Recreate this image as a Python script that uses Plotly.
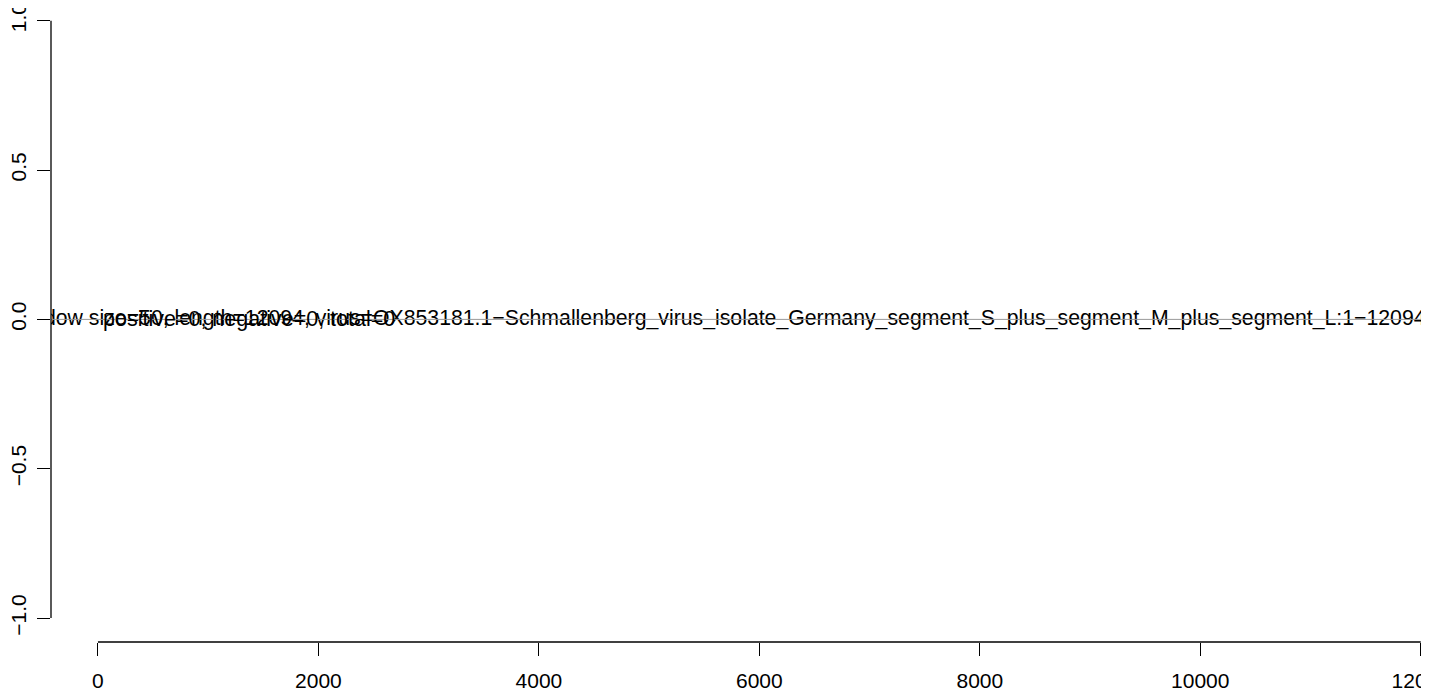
import plotly.graph_objects as go

# ---- data ----
genome_length = 12094
x_ticks = [0, 2000, 4000, 6000, 8000, 10000, 12000]
x_ticktext = ["0", "2000", "4000", "6000", "8000", "10000", "12000"]
y_ticks = [-1.0, -0.5, 0.0, 0.5, 1.0]
y_ticktext = ["\u22121.0", "\u22120.5", "0.0", "0.5", "1.0"]

title_text = "Window size=50, length=12094, virus=OX853181.1\u2212Schmallenberg_virus_isolate_Germany_segment_S_plus_segment_M_plus_segment_L:1\u221212094"
title_x = 5611
count_text = "positive=0, negative=0, total=0"
count_x = 0
label_y = 0

baseline_y = 0

FONT = "Liberation Sans, Arial, Helvetica, sans-serif"
FS = 21
FS_TITLE = 21.25
FS_COUNT = 21.5

fig = go.Figure()

# zero reference line
fig.add_shape(type="line", xref="paper", x0=0, x1=1, yref="y",
              y0=baseline_y, y1=baseline_y, line=dict(color="#9a9a9a", width=1))

# long label, centred and clipped by the plot region
fig.add_trace(go.Scatter(x=[title_x], y=[label_y], mode="text", text=[title_text],
                         textposition="middle center", cliponaxis=True,
                         textfont=dict(family=FONT, size=FS_TITLE, color="black"),
                         hoverinfo="skip", showlegend=False))

# counts label, left-aligned at x=0
fig.add_annotation(x=count_x, y=label_y, xref="x", yref="y", text=count_text,
                   showarrow=False, xanchor="left", yanchor="middle", xshift=3,
                   font=dict(family=FONT, size=FS_COUNT, color="black"))

# R-style axis lines spanning first to last tick
fig.add_shape(type="line", xref="x", x0=x_ticks[0], x1=x_ticks[-1],
              yref="paper", y0=0, y1=0, line=dict(color="black", width=1.3))
fig.add_shape(type="line", xref="paper", x0=0, x1=0,
              yref="y", y0=y_ticks[0], y1=y_ticks[-1], line=dict(color="black", width=1.3))

# page body has an 8px margin; size the figure to fit the window exactly
fig.update_layout(
    width=1421, height=685,
    margin=dict(l=43, r=0, t=0, b=51, autoexpand=False),
    paper_bgcolor="white", plot_bgcolor="white",
    font=dict(family=FONT, size=FS, color="black"),
    showlegend=False,
)
fig.update_xaxes(range=[-426, 12075], showgrid=False, zeroline=False, showline=False,
                 automargin=False, ticklabeloverflow="allow",
                 tickmode="array", tickvals=x_ticks, ticktext=x_ticktext,
                 ticks="outside", ticklen=13, tickwidth=1.3, tickcolor="black",
                 ticklabelstandoff=7, tickfont=dict(family=FONT, size=FS))
fig.update_yaxes(range=[-1.08, 1.0425], showgrid=False, zeroline=False, showline=False,
                 automargin=False, ticklabeloverflow="allow",
                 tickmode="array", tickvals=y_ticks, ticktext=y_ticktext,
                 ticks="outside", ticklen=13, tickwidth=1.3, tickcolor="black",
                 tickangle=-90, ticklabelstandoff=3, tickfont=dict(family=FONT, size=FS))

fig.write_html("out.html")
